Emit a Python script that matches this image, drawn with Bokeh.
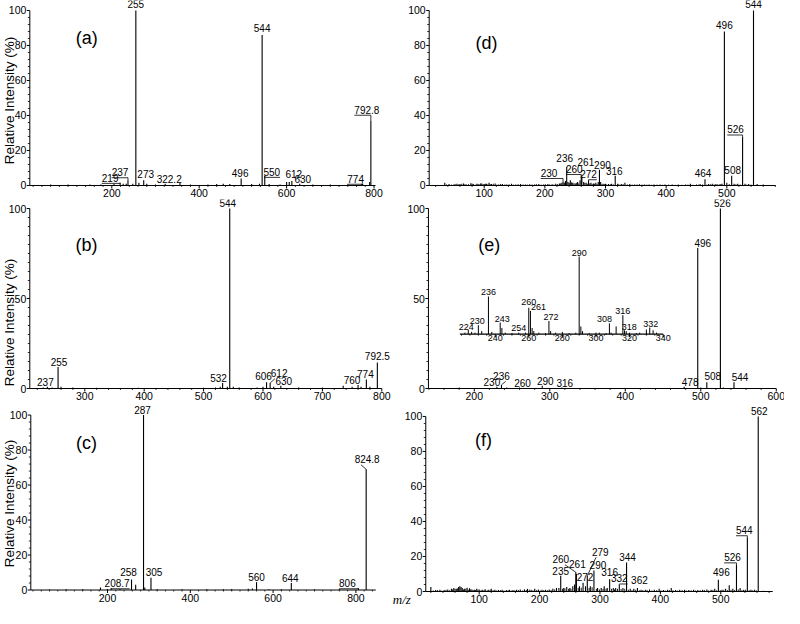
import math
from bokeh.plotting import figure
from bokeh.models import ColumnDataSource, LabelSet, Label, Range1d
from bokeh.layouts import column, row
from bokeh.core.properties import value
from bokeh.embed import file_html
from bokeh.resources import INLINE

SANS = "Liberation Sans"

# ---------------- data (m/z, relative intensity %) ----------------
# (a)
a_mz = [60, 100, 150, 175, 205, 219, 226, 233, 237, 248, 255, 262, 273, 280, 300, 322.2, 356, 380, 420, 440,
        455, 470, 496, 520, 538, 544, 550, 560, 585, 600, 606, 612, 630, 660, 700, 740, 772, 774, 790, 792.8]
a_int = [0.5, 0.5, 0.5, 0.5, 1, 1.5, 1, 1, 3, 1, 100, 1.5, 3, 1, 0.5, 1, 1.5, 0.5, 0.5, 0.8,
         1, 0.8, 4, 0.8, 1, 86, 5.5, 0.8, 0.6, 2, 2, 2.5, 1, 0.5, 0.5, 0.5, 1, 1, 2, 37]
a_labels = ["219", "237", "255", "273", "322.2", "496", "544", "550", "612", "630", "774", "792.8"]
a_xticks = [200, 400, 600, 800]
a_yticks = [0, 20, 40, 60, 80, 100]

# (b)
b_mz = [230, 237, 245, 255, 260, 280, 320, 390, 450, 500, 520, 528, 532, 540, 544, 550, 560, 590, 600, 606,
        612, 618, 630, 660, 700, 735, 750, 760, 765, 774, 780, 792.5]
b_int = [0.5, 1, 0.5, 12, 1, 0.5, 0.4, 0.4, 0.3, 0.4, 0.6, 1, 3, 1, 100, 1, 0.5, 0.5, 1, 3.5,
         3, 1, 1.5, 0.5, 0.5, 1.5, 1, 2, 1, 5, 1, 14.5]
b_labels = ["237", "255", "532", "544", "606", "612", "630", "760", "774", "792.5"]
b_xticks = [300, 400, 500, 600, 700, 800]
b_yticks = [0, 50, 100]

# (c)
c_mz = [60, 100, 140, 183, 200, 208.7, 230, 258, 268, 287, 290, 305, 320, 380, 440, 480, 500, 540, 550, 560,
        590, 620, 644, 700, 760, 806, 824.8]
c_int = [0.3, 0.4, 0.4, 1.5, 0.6, 1, 0.6, 6, 3, 100, 1.5, 7, 0.5, 0.4, 0.5, 0.5, 0.6, 0.7, 0.8, 4.5,
         0.5, 0.5, 4, 0.4, 0.5, 1, 69]
c_labels = ["208.7", "258", "287", "305", "560", "644", "806", "824.8"]
c_xticks = [200, 400, 600, 800]
c_yticks = [0, 20, 40, 60, 80, 100]

# (d)
d_mz = [35, 42, 50, 55, 60, 66, 70, 78, 82, 88, 92, 96, 100, 104, 108, 112, 118, 124, 130, 137,
        145, 152, 160, 168, 175, 183, 190, 198, 205, 212, 218, 224, 228, 230, 232, 234, 236, 238, 240, 242,
        246, 250, 254, 258, 260, 261, 264, 268, 272, 276, 280, 284, 288, 290, 292, 296, 300, 305, 310, 316,
        320, 326, 332, 340, 348, 356, 364, 372, 380, 390, 398, 410, 420, 432, 440, 450, 456, 464, 470, 476,
        482, 488, 492, 496, 500, 508, 512, 518, 526, 530, 536, 544, 550, 560]
d_int = [1.5, 0.8, 0.6, 1, 0.8, 1.2, 0.7, 1.3, 0.8, 1, 0.6, 1.2, 0.8, 1, 1.5, 0.8, 1.2, 0.6, 0.8, 0.6,
         1, 0.6, 0.8, 0.5, 0.7, 0.6, 0.8, 0.6, 0.8, 0.7, 1, 1.2, 1.5, 2, 1.5, 2.5, 10.5, 2, 1.5, 3,
         1.5, 1.2, 2, 3, 6, 5, 2, 1.5, 3, 1.5, 1.2, 1.5, 2, 9, 2, 1, 1, 0.8, 1, 5.5,
         1, 0.8, 1.5, 0.8, 0.6, 0.7, 0.5, 0.6, 0.5, 0.6, 0.5, 0.6, 0.5, 0.5, 1, 0.6, 0.8, 3.5, 0.8, 1,
         0.8, 0.6, 1, 88, 1.5, 5.5, 1, 1, 28, 1, 0.8, 100, 0.8, 0.5]
d_noise_mz = [38, 46, 52, 58, 63, 68, 74, 80, 85, 90, 94, 98, 102, 106, 110, 115, 121, 127, 134, 141,
              148, 156, 164, 171, 179, 186, 194, 201, 208, 215, 221, 226, 244, 248, 252, 256, 266, 270, 274, 278,
              282, 286, 294, 298, 302, 308, 313, 322, 329, 336, 344, 352, 360, 368, 376, 385, 394, 404, 415, 426,
              436, 444, 453, 460, 467, 473, 479, 485, 490, 504, 515, 522, 533, 540]
d_noise_int = [0.6, 0.5, 0.9, 0.7, 1, 0.6, 0.8, 1.1, 0.5, 0.9, 1.2, 0.7, 1, 0.6, 0.8, 1, 0.5, 0.9, 0.6, 0.7,
               0.5, 0.8, 0.6, 0.5, 0.6, 0.8, 0.5, 0.7, 0.6, 0.5, 0.8, 1.2, 1.8, 1.2, 1.5, 1.2, 1.5, 1, 1.2, 0.8,
               1, 0.8, 0.7, 0.8, 0.6, 0.7, 0.6, 0.7, 0.8, 0.6, 0.5, 0.6, 0.5, 0.5, 0.4, 0.5, 0.4, 0.5, 0.4, 0.4,
               0.5, 0.4, 0.5, 0.6, 0.5, 0.7, 0.6, 0.7, 0.8, 0.8, 0.7, 0.6, 0.5, 0.5]
d_labels = ["230", "236", "260", "261", "272", "290", "316", "464", "496", "508", "526", "544"]
d_xticks = [100, 200, 300, 400, 500]
d_yticks = [0, 20, 40, 60, 80, 100]

# (e) main spectrum
e_mz = [150, 180, 230, 236, 243, 260, 290, 316, 478, 496, 500, 508, 526, 530, 544, 560]
e_int = [0.2, 0.5, 1, 2, 0.5, 0.5, 1.5, 0.5, 1, 78, 0.5, 3.5, 100, 0.5, 3.5, 0.2]
e_labels = ["230", "236", "260", "290", "316", "478", "496", "508", "526", "544"]
e_xticks = [200, 300, 400, 500, 600]
e_yticks = [0, 50, 100]

# (e) inset (intensity relative to m/z 290)
e_in_mz = [222, 224, 226, 228, 230, 232, 236, 238, 243, 244, 246, 250, 254, 258, 260, 261, 262, 263, 266, 270,
           272, 273, 276, 280, 284, 288, 290, 291, 292, 296, 300, 302, 306, 308, 309, 312, 316, 317, 318, 320,
           324, 326, 330, 332, 334, 336]
e_in_int = [2, 5.6, 3, 2, 11.6, 4, 48.5, 3, 15, 8, 2, 1.5, 2, 2, 34, 30, 8, 4, 2, 1.5,
            17, 4, 2, 3, 1.5, 2, 100, 10, 4, 1.5, 2, 2, 1.5, 14, 2, 10, 24.5, 5, 4, 2,
            1.5, 2, 6, 8.6, 5, 2]
e_in_labels = ["224", "230", "236", "243", "254", "260", "261", "272", "290", "308", "316", "318", "332"]
e_in_ticks = [240, 260, 280, 300, 320, 340]
e_in_axis = [219, 340]

# (f)
f_mz = [20, 28, 35, 42, 48, 54, 58, 62, 66, 68, 70, 72, 76, 80, 84, 88, 92, 96, 100, 105,
        110, 115, 120, 126, 132, 138, 145, 150, 156, 162, 168, 175, 180, 186, 192, 198, 204, 210, 216, 222,
        228, 232, 235, 240, 245, 250, 255, 258, 260, 261, 266, 272, 276, 279, 284, 290, 296, 302, 307, 312,
        316, 322, 326, 332, 338, 344, 350, 356, 362, 368, 375, 382, 390, 398, 405, 412, 418, 425, 432, 440,
        447, 455, 462, 470, 477, 484, 490, 496, 502, 508, 514, 520, 526, 532, 538, 544, 550, 556, 562, 570]
f_int = [2.5, 0.8, 1, 0.8, 1.2, 1.5, 2, 1.5, 2.5, 3, 2.5, 2, 1.5, 2.2, 1.8, 1.2, 1, 1.5, 1.2, 1,
         1.3, 1, 1.5, 1, 0.8, 1, 0.8, 1, 0.8, 1, 1.2, 1.2, 1.5, 1, 1.5, 1.2, 1, 1, 1.2, 1.5,
         2, 2, 9, 2, 2.5, 2, 3, 4, 11, 10, 3, 5, 3, 9, 3, 12, 2, 2, 3, 2,
         7, 2, 2, 4, 2, 16.5, 1.5, 1.5, 2, 1, 1, 1.2, 1, 1.5, 0.8, 1, 2, 0.8, 1, 1,
         0.8, 1, 0.8, 1, 1.2, 1, 1.5, 6.7, 1, 1.5, 3.5, 1.5, 15.5, 2, 1, 31, 1, 1, 100, 0.5]
f_noise_mz = [24, 31, 38, 45, 51, 56, 60, 64, 74, 78, 82, 86, 90, 94, 98, 103, 108, 113, 118, 123,
              129, 135, 141, 148, 153, 159, 165, 172, 178, 183, 189, 195, 201, 207, 213, 219, 225, 238, 242, 248,
              252, 264, 269, 282, 287, 294, 299, 305, 310, 319, 324, 329, 335, 341, 347, 353, 359, 365, 371, 378,
              386, 394, 401, 408, 415, 421, 428, 436, 443, 451, 458, 466, 473, 480, 487, 493, 499, 505, 511, 517,
              523, 529, 535, 541, 547, 553, 559]
f_noise_int = [0.6, 0.8, 0.5, 1, 0.7, 1.2, 1.5, 1.8, 1.2, 1.6, 1, 1.3, 0.8, 0.9, 1, 0.7, 0.9, 0.6, 1, 0.8,
               0.6, 0.8, 0.5, 0.7, 0.6, 0.7, 0.8, 0.6, 0.9, 1, 0.7, 0.8, 0.6, 0.8, 0.7, 0.9, 1.2, 1.5, 1.8, 1.5,
               1.6, 2, 2.2, 2, 2.4, 1.5, 1.2, 1.5, 1.6, 1.5, 1.2, 1.5, 1.4, 1.5, 1, 0.8, 1, 0.7, 0.8, 0.9,
               0.6, 0.8, 0.7, 0.6, 0.8, 0.7, 0.6, 0.8, 0.6, 0.7, 0.6, 0.7, 0.8, 0.6, 0.9, 0.7, 0.8, 1, 0.8, 1,
               0.9, 1.2, 0.8, 1, 0.8, 0.7, 0.6]
f_labels = ["235", "260", "261", "272", "279", "290", "316", "332", "344", "362", "496", "526", "544", "562"]
f_xticks = [100, 200, 300, 400, 500]
f_yticks = [0, 20, 40, 60, 80, 100]

# ---------------- label placement (pixel offsets from peak top, +dy = down) ----------------
a_dx = [-10, -8, 0, 2, 4, -1, 0, 7, 2, 3, -7, -4]
a_dy = [-1, -4, -2, -2, -1, -1, -3, 0, -3, -1, -1, -7]
a_lead = ["b", "b", "n", "n", "n", "n", "n", "b", "n", "n", "b", "b"]
b_dx = [-2, 1, -4, -2, -3, 9, 3, -6, -1, 0]
b_dy = [-1, -1, -1, -2, -2, -6, -1, -1, -2, -2]
b_lead = ["n", "n", "n", "n", "n", "d", "n", "n", "n", "n"]
c_dx = [6, -3, -1, 3, 0, -1, -11, 1]
c_dy = [-1, -4, -1, -2, -1, -1, -1, -6]
c_lead = ["b", "n", "n", "n", "n", "n", "b", "d"]
d_dx = [-14, -2, -7, 4, 0, 3, -1, -2, 0, 1, -7, 0]
d_dy = [-5, -5, -2, -11, -2, -1, -1, -2, -2, -2, -3, -2]
d_lead = ["b", "n", "b", "n", "b", "n", "n", "n", "n", "n", "b", "n"]
e_dx = [-5, 0, 3, 3, 3, 6, 5, 6, 2, 6]
e_dy = [-1, -5, -1, -1, -1, -1, -1, -2, -2, -1]
e_lead = ["n", "d", "n", "n", "n", "n", "n", "n", "n", "n"]
e_in_dx = [-2, -1, 0, 2, 0, 0, 8, 2, 0, -5, 0, 3, 1]
e_in_dy = [0, -1.5, -1.5, -1, -2, -3, -1, -1, -1, -1, -1, -1, -1]
f_dx = [0, -15, 1, 2, 13, 4, 0, 0, 1, 2, 3, -4, -3, 1]
f_dy = [-1, -9, -6, -2, -20, -1, -3, -2, -2, -4, -4, -3, -3, -1]
f_lead = ["n", "d", "n", "n", "d", "n", "n", "b", "n", "n", "n", "b", "b", "n"]


def add_labels(p, mz, inten, labels, dx, dy, size="10px", xr="default", yr="default"):
    h = dict(zip(mz, inten))
    xs = [float(t) for t in labels]
    ys = [h[float(t)] for t in labels]
    src = ColumnDataSource(dict(x=xs, y=ys, text=labels, dx=dx, dy=[-v for v in dy]))
    p.add_layout(LabelSet(x="x", y="y", text="text", x_offset="dx", y_offset="dy", source=src,
                          text_font=value(SANS), text_font_size=size, text_color="black",
                          text_align="center", text_baseline="alphabetic",
                          x_range_name=xr, y_range_name=yr))


def add_leaders(p, mz, inten, labels, dx, dy, kinds, sx, sy, fs=10.0):
    h = dict(zip(mz, inten))
    xs, ys = [], []
    for t, ox, oy, k in zip(labels, dx, dy, kinds):
        if k == "n":
            continue
        m = float(t)
        top = h[m]
        w = 0.556 * fs * len(t.replace(".", "")) + 0.278 * fs * t.count(".")
        if k == "b":
            base = oy + 1.5
            edge = ox - w / 2 if ox < 0 else ox + w / 2
            pts = [(edge, base), (0, base), (0, 0)]
        else:
            sgn = 1 if ox > 0 else -1
            pts = [(ox - sgn * w / 4, oy + 1.5), (0, 0)]
        xs.append([m + px / sx for px, _ in pts])
        ys.append([top - py / sy for _, py in pts])
    if xs:
        p.multi_line(xs=xs, ys=ys, line_color="black", line_width=0.8)


def draw_axes(p, cfg, xticks, yticks):
    xa, xe = cfg["xa"], cfg["xe"]
    # axis lines
    p.segment(x0=[xa, xa], y0=[0, 0], x1=[xa, xe], y1=[100, 0], line_color="black", line_width=1)
    # y ticks
    p.ray(x=[xa] * len(yticks), y=yticks, length=3, angle=math.pi, length_units="screen",
          line_color="black", line_width=1)
    ystep = (yticks[1] - yticks[0]) / cfg["ym"]
    yminor = [i * ystep for i in range(int(round(100 / ystep)) + 1) if all(abs(i * ystep - t) > 1e-6 for t in yticks)]
    p.ray(x=[xa] * len(yminor), y=yminor, length=2, angle=math.pi, length_units="screen",
          line_color="black", line_width=0.8)
    ysrc = ColumnDataSource(dict(x=[xa] * len(yticks), y=yticks, text=[str(t) for t in yticks]))
    p.add_layout(LabelSet(x="x", y="y", text="text", source=ysrc, x_offset=-3.5,
                          text_font=value(SANS), text_font_size="10.5px", text_color="black",
                          text_align="right", text_baseline="middle"))
    # x ticks
    p.ray(x=xticks, y=[0] * len(xticks), length=3, angle=-math.pi / 2, length_units="screen",
          line_color="black", line_width=1)
    first = math.ceil(xa / 20.0) * 20
    xminor = [v for v in range(int(first), int(xe) + 1, 20) if v not in xticks]
    p.ray(x=xminor, y=[0] * len(xminor), length=1.5, angle=-math.pi / 2, length_units="screen",
          line_color="black", line_width=0.8)
    xsrc = ColumnDataSource(dict(x=xticks, y=[0] * len(xticks), text=[str(t) for t in xticks]))
    p.add_layout(LabelSet(x="x", y="y", text="text", source=xsrc, y_offset=-3.5,
                          text_font=value(SANS), text_font_size="10.5px", text_color="black",
                          text_align="center", text_baseline="top"))


def panel(cfg, mz, inten, labels, dx, dy, kinds, xticks, yticks, noise_mz=(), noise_int=()):
    W, H = cfg["w"], cfg["h"]
    p = figure(width=W, height=H, title=None,
               x_range=Range1d(*cfg["x"]), y_range=Range1d(*cfg["y"]),
               x_axis_type=None, y_axis_type=None,
               output_backend="svg", toolbar_location=None, min_border=0)
    p.outline_line_color = None
    p.grid.visible = False
    p.background_fill_color = "white"
    p.border_fill_color = "white"
    sx = W / (cfg["x"][1] - cfg["x"][0])
    sy = H / (cfg["y"][1] - cfg["y"][0])
    draw_axes(p, cfg, xticks, yticks)
    if len(noise_mz):
        nsrc = ColumnDataSource(dict(mz=list(noise_mz), inten=list(noise_int)))
        p.segment(x0="mz", y0=0, x1="mz", y1="inten", source=nsrc, line_color="black", line_width=0.9)
    src = ColumnDataSource(dict(mz=mz, inten=inten))
    p.segment(x0="mz", y0=0, x1="mz", y1="inten", source=src, line_color="black", line_width=1.1)
    add_labels(p, mz, inten, labels, dx, dy)
    add_leaders(p, mz, inten, labels, dx, dy, kinds, sx, sy)
    tx, ty = cfg["tag_xy"]
    p.add_layout(Label(x=tx, y=ty, text=cfg["tag"], text_font=SANS, text_font_size="18px",
                       text_align="center", text_baseline="middle", text_color="black"))
    if cfg.get("ylab") is not None:
        p.add_layout(Label(x=cfg["xa"], y=cfg["ylab"], x_offset=cfg["ylab_dx"],
                           text="Relative Intensity (%)", angle=math.pi / 2,
                           text_font=SANS, text_font_size="13.5px", text_color="black",
                           text_align="center", text_baseline="middle"))
    return p, sx, sy


A = dict(w=392, h=199, x=(-54.7, 842.3), y=(-8.0, 105.7), xa=12.4, xe=803.4, ym=5,
         tag="(a)", tag_xy=(142.4, 84), ylab=48.6, ylab_dx=-20)
B = dict(w=392, h=204, x=(158.1, 818.0), y=(-8.33, 105.0), xa=207.4, xe=800, ym=10,
         tag="(b)", tag_xy=(302.9, 80), ylab=36.7, ylab_dx=-20)
C = dict(w=392, h=204, x=(-58.5, 888.4), y=(-10.0, 106.6), xa=14.7, xe=848, ym=5,
         tag="(c)", tag_xy=(149.3, 84), ylab=49.4, ylab_dx=-21)
D = dict(w=392, h=199, x=(-51.2, 595.1), y=(-8.0, 105.7), xa=9.3, xe=580.6, ym=5,
         tag="(d)", tag_xy=(103.8, 81.7))
E = dict(w=392, h=204, x=(91.7, 610.9), y=(-8.33, 105.0), xa=139.3, xe=600, ym=10,
         tag="(e)", tag_xy=(220, 80))
F = dict(w=392, h=204, x=(-43.5, 605.5), y=(-9.14, 107.4), xa=11.6, xe=586, ym=5,
         tag="(f)", tag_xy=(107.1, 86.3))

pa, _, _ = panel(A, a_mz, a_int, a_labels, a_dx, a_dy, a_lead, a_xticks, a_yticks)
pb, _, _ = panel(B, b_mz, b_int, b_labels, b_dx, b_dy, b_lead, b_xticks, b_yticks)
pc, _, _ = panel(C, c_mz, c_int, c_labels, c_dx, c_dy, c_lead, c_xticks, c_yticks)
pd, _, _ = panel(D, d_mz, d_int, d_labels, d_dx, d_dy, d_lead, d_xticks, d_yticks, d_noise_mz, d_noise_int)
pe, _, _ = panel(E, e_mz, e_int, e_labels, e_dx, e_dy, e_lead, e_xticks, e_yticks)
pf, _, _ = panel(F, f_mz, f_int, f_labels, f_dx, f_dy, f_lead, f_xticks, f_yticks, f_noise_mz, f_noise_int)

# ---- inset in (e): its own scales spanning the canvas ----
pe.extra_x_ranges = {"ix": Range1d(178.9, 412.2)}
pe.extra_y_ranges = {"iy": Range1d(-89.2, 173.4)}
isrc = ColumnDataSource(dict(mz=e_in_mz, inten=e_in_int))
pe.segment(x0="mz", y0=0, x1="mz", y1="inten", source=isrc, line_color="black", line_width=1,
           x_range_name="ix", y_range_name="iy")
pe.segment(x0=e_in_axis[0], y0=0, x1=e_in_axis[1], y1=0, line_color="black", line_width=1.3,
           x_range_name="ix", y_range_name="iy")
pe.ray(x=e_in_ticks, y=[0] * len(e_in_ticks), length=3, length_units="screen", angle=-math.pi / 2,
       line_color="black", line_width=1, x_range_name="ix", y_range_name="iy")
iminor = [t for t in range(220, 341, 5) if t not in e_in_ticks]
pe.ray(x=iminor, y=[0] * len(iminor), length=1.5, length_units="screen", angle=-math.pi / 2,
       line_color="black", line_width=0.8, x_range_name="ix", y_range_name="iy")
tsrc = ColumnDataSource(dict(x=e_in_ticks, y=[0] * len(e_in_ticks), text=[str(t) for t in e_in_ticks]))
pe.add_layout(LabelSet(x="x", y="y", text="text", source=tsrc, y_offset=-1,
                       text_font=value(SANS), text_font_size="9px", text_color="black",
                       text_align="center", text_baseline="top", x_range_name="ix", y_range_name="iy"))
add_labels(pe, e_in_mz, e_in_int, e_in_labels, e_in_dx, e_in_dy, size="9px", xr="ix", yr="iy")

# m/z axis title
pf.add_layout(Label(x=F["xa"], y=0, x_offset=-24, y_offset=-8, text="m/z",
                    text_font="Liberation Serif", text_font_style="italic", text_font_size="13px",
                    text_color="black", text_align="center", text_baseline="middle"))

layout = column(row(pa, pd), row(pb, pe), row(pc, pf))
open("out.html", "w").write(file_html(layout, INLINE))
